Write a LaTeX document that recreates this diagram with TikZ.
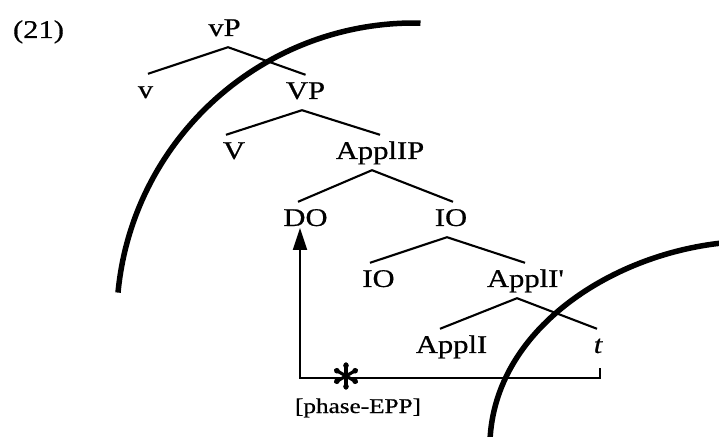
\documentclass[tikz,border=0pt]{standalone}
\usepackage{fontspec}
\setmainfont{Liberation Serif}[FakeStretch=1.2,FakeBold=0.6]
\usetikzlibrary{arrows.meta}
\begin{document}
\begin{tikzpicture}[x=1pt,y=1pt,
  lbl/.style={inner sep=4pt, text height=20pt, text depth=7pt,
    font=\fontsize{25.5}{28}\selectfont, anchor=base},
  branch/.style={line width=2.1pt},
  phasearc/.style={line width=5.5pt},
  movepath/.style={line width=2pt},
  starspoke/.style={line width=3.2pt, line cap=round}]
\useasboundingbox (0,0) rectangle (719,436);
\fill[white] (0,0) rectangle (719,436);

% example number
\node[lbl] (num) at (38.5,398) {(21)};

% tree nodes
\node[lbl] (vP) at (224.5,400) {vP};
\node[lbl] (v) at (145.5,338) {v};
\node[lbl] (VP) at (305.5,337) {VP};
\node[lbl] (V) at (234,277) {V};
\node[lbl] (ApplIP) at (380,277) {ApplIP};
\node[lbl] (DO) at (305.5,210) {DO};
\node[lbl] (IOa) at (451,210) {IO};
\node[lbl] (IOb) at (378.5,149) {IO};
\node[lbl] (ApplIbar) at (525,149) {ApplI\textquotesingle};
\node[lbl] (ApplI) at (451.5,83) {ApplI};
\node[lbl] (t) at (598,83) {\itshape t};
\node[anchor=base, inner sep=0pt, font=\fontsize{21}{24}\selectfont] (phase) at (358,23) {[phase-EPP]};

% branches
\draw[branch] ([xshift=2.5pt]v.north) -- ([xshift=3.5pt]vP.south) -- (VP.north);
\draw[branch] ([xshift=-8pt]V.north) -- ([xshift=-3.5pt]VP.south) -- (ApplIP.north);
\draw[branch] ([xshift=-7.5pt]DO.north) -- ([xshift=-8pt]ApplIP.south) -- ([xshift=2pt]IOa.north);
\draw[branch] ([xshift=-8.5pt]IOb.north) -- ([xshift=-4pt]IOa.south) -- (ApplIbar.north);
\draw[branch] ([xshift=-11.5pt]ApplI.north) -- ([xshift=-8pt]ApplIbar.south) -- ([xshift=-1pt]t.north);

% movement path
\coordinate (c1) at (600,58);
\coordinate (c2) at (300,58);
\draw[movepath, -{Triangle[length=22pt,width=14pt]}]
  ([xshift=2pt,yshift=-4pt]t.south) -- (c1) -- (c2) -- ([xshift=-5.5pt,yshift=-2pt]DO.base);

% asterisk
\node[inner sep=0pt] (star) at (346,60) {};
\foreach \a in {90,30,150}
  \draw[starspoke] ([shift={(\a:12pt)}]star.center) -- ([shift={(\a+180:12pt)}]star.center);
\foreach \a in {90,30,150,270,210,330}
  \fill ([shift={(\a:10.5pt)}]star.center) circle[radius=2.8pt];

% phase arcs
\draw[phasearc] (118,143.4) arc[start angle=174.6, end angle=88.8, radius=297.6pt];
\draw[phasearc] (490,-4) .. controls (495,106) and (610,181) .. (722,193);
\end{tikzpicture}
\end{document}
